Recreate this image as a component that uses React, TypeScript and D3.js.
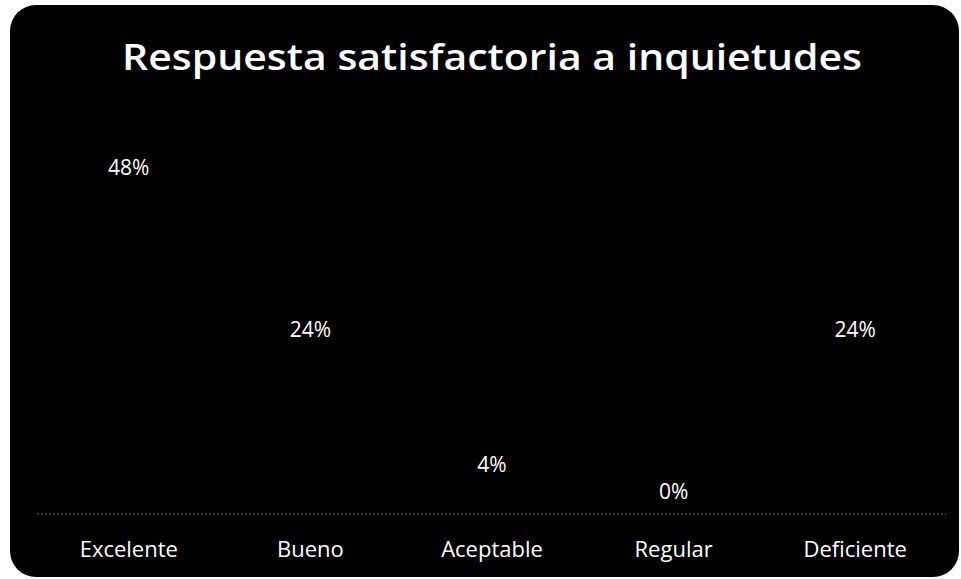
import React from "react";
import * as d3 from "d3";

const categories = ["Excelente", "Bueno", "Aceptable", "Regular", "Deficiente"];
const values = [48, 24, 4, 0, 24];
const title = "Respuesta satisfactoria a inquietudes";

export default function App() {
  const W = 961, H = 579;
  const x = d3.scaleBand<string>().domain(categories).range([38, 946]).paddingInner(0.3).paddingOuter(0.15);
  const y = d3.scaleLinear().domain([0, 48]).range([514, 190]);
  const font = "'Open Sans', sans-serif";
  const cx = (c: string) => (x(c) ?? 0) + x.bandwidth() / 2;
  return (
    <svg width={W} height={H} style={{ position: "absolute", left: 0, top: 0, background: "#fff" }}>
      <rect x={10} y={5} width={949} height={572} rx={26} ry={26} fill="#000" />
      <text x={492} y={70} textAnchor="middle" fill="#fff" fontFamily={font} fontWeight={600} fontSize={36}
        textLength={740} lengthAdjust="spacingAndGlyphs">
        {title}
      </text>
      {categories.map((c, i) => (
        <rect key={"b" + c} x={x(c)} y={y(values[i])} width={x.bandwidth()} height={514 - y(values[i])} fill="#000" />
      ))}
      <line x1={37} x2={946} y1={514} y2={514} stroke="#777" strokeWidth={1} strokeDasharray="2,2" />
      {categories.map((c, i) => (
        <text key={"v" + c} x={cx(c)} y={y(values[i]) - 15} textAnchor="middle" fill="#fff" fontFamily={font} fontSize={21}>
          {values[i] + "%"}
        </text>
      ))}
      {categories.map((c) => (
        <text key={"c" + c} x={cx(c)} y={557} textAnchor="middle" fill="#fff" fontFamily={font} fontSize={22}>
          {c}
        </text>
      ))}
    </svg>
  );
}
